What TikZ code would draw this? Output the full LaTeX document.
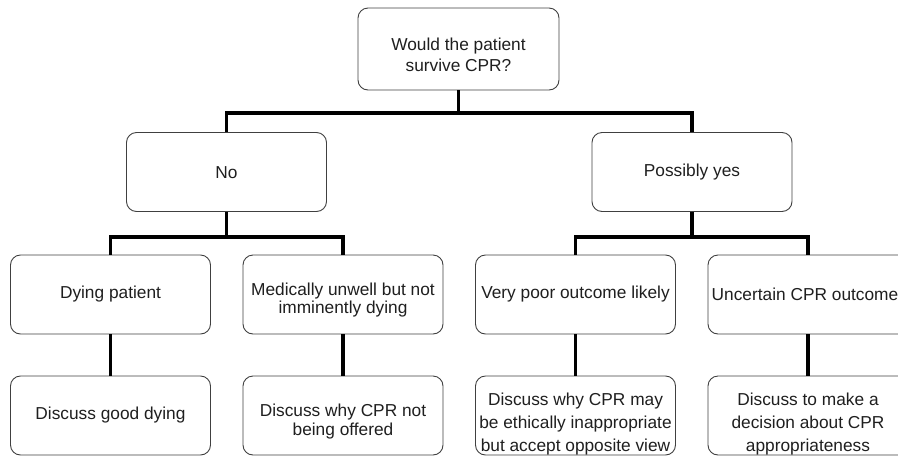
\documentclass[tikz,border=0pt]{standalone}
\usepackage{fontspec}
\setmainfont{Liberation Sans}
\begin{document}
\begin{tikzpicture}[x=1pt,y=-1pt,
  box/.style={draw=black!75, line width=0.9pt, rounded corners=10pt, fill=white,
    minimum width=200pt, minimum height=79pt, inner sep=0pt},
  txt/.style={align=center, inner sep=0pt, text=black!88,
    font=\fontsize{17.3}{#1}\selectfont},
  txt/.default=20,
  conn/.style={line width=3.4pt, draw=black}]
\useasboundingbox (0,0) rectangle (898,456);
\begin{scope}
\clip (0,0) rectangle (898,456);
% frames
\node[box, minimum width=201pt, minimum height=82pt] (top) at (458.5,49) {};
\node[box] (no) at (226.5,172) {};
\node[box] (yes) at (692,172) {};
\node[box] (dying) at (110.5,294.5) {};
\node[box] (med) at (343,294.5) {};
\node[box] (poor) at (575.5,294.5) {};
\node[box] (unc) at (808,294.5) {};
\node[box] (good) at (110.5,415.5) {};
\node[box] (why) at (343,415.5) {};
\node[box] (eth) at (575.5,415.5) {};
\node[box] (dec) at (808,415.5) {};
% texts
\node[txt=20.5] (topT) at (458.5,55) {Would the patient\\survive CPR?};
\node[txt] (noT) at (226.5,172.5) {No};
\node[txt] (yesT) at (692,172.5) {Possibly yes};
\node[txt] (dyingT) at (110.5,294.5) {Dying patient};
\node[txt=18.5] (medT) at (343,300) {Medically unwell but not\\imminently dying};
\node[txt] (poorT) at (575.5,294.5) {Very poor outcome likely};
\node[txt] (uncT) at (805,294.5) {Uncertain CPR outcome};
\node[txt] (goodT) at (110.5,415.5) {Discuss good dying};
\node[txt=19] (whyT) at (343,421.5) {Discuss why CPR not\\being offered};
\node[txt=23] (ethT) at (575.5,424.5) {Discuss why CPR may\\be ethically inappropriate\\but accept opposite view};
\node[txt=23] (decT) at (808,424.5) {Discuss to make a\\decision about CPR\\appropriateness};
% connectors
\coordinate (bus1) at (458.5,113);
\coordinate (bus2) at (226.5,237);
\coordinate (bus3) at (692,237);
\draw[conn] (top.south) -- (bus1);
\draw[conn] (no.north) |- (bus1) -| (yes.north);
\draw[conn] (no.south) -- (bus2);
\draw[conn] (dying.north) |- (bus2) -| (med.north);
\draw[conn] (yes.south) -- (bus3);
\draw[conn] (poor.north) |- (bus3) -| (unc.north);
\draw[conn] (dying.south) -- (good.north);
\draw[conn] (med.south) -- (why.north);
\draw[conn] (poor.south) -- (eth.north);
\draw[conn] (unc.south) -- (dec.north);
\end{scope}
\end{tikzpicture}
\end{document}
